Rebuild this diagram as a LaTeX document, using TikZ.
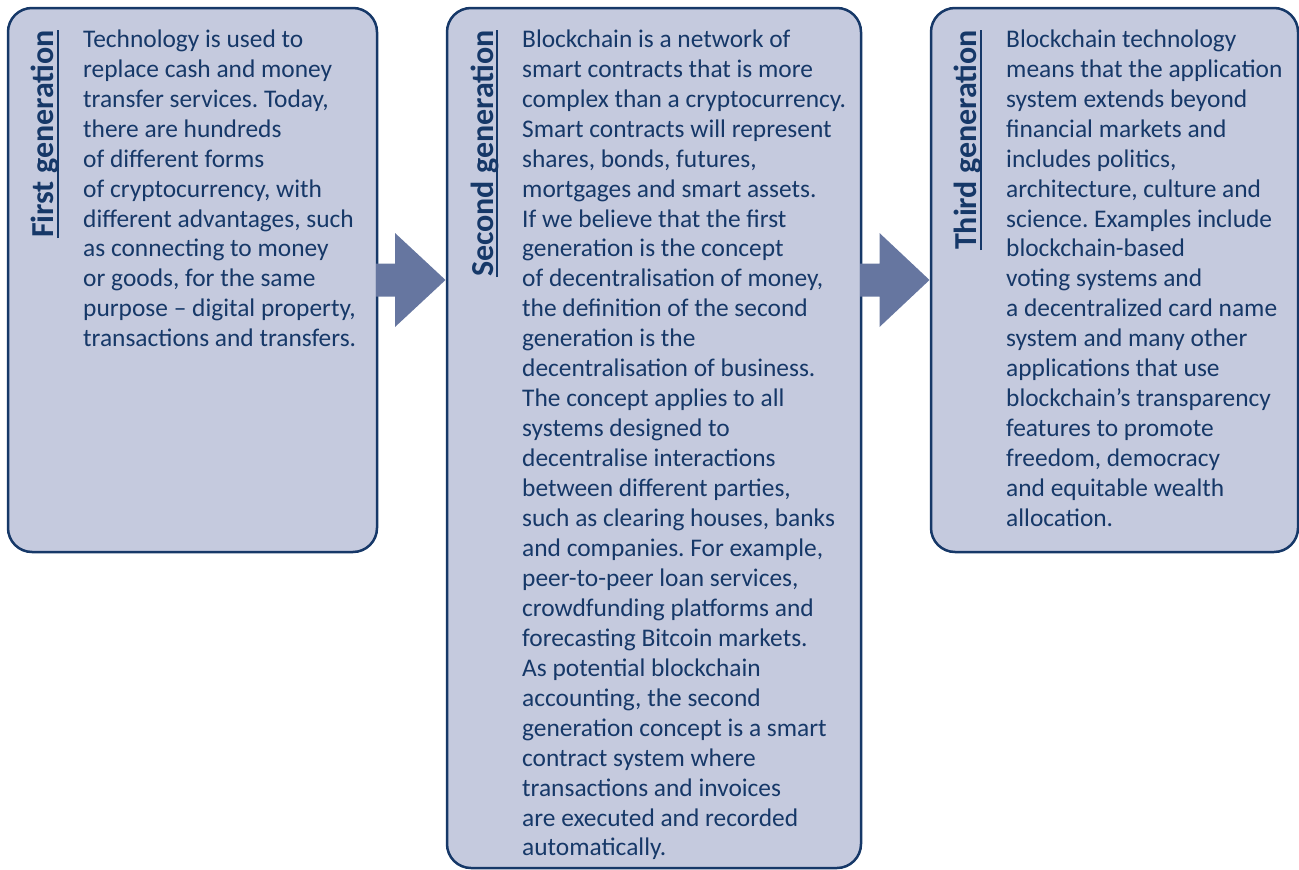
\documentclass[tikz,border=0pt]{standalone}
\usepackage{fontspec}
\setmainfont{Carlito}
\usetikzlibrary{calc}
\definecolor{navy}{RGB}{22,56,104}
\definecolor{boxfill}{RGB}{197,202,222}
\definecolor{arrowc}{RGB}{102,118,160}
\frenchspacing
\begin{document}
\begin{tikzpicture}[x=1pt,y=-1pt,
  genbox/.style={draw=navy, line width=2.5pt, fill=boxfill, rounded corners=24pt, inner sep=0pt, outer sep=0pt, anchor=north west},
  genbody/.style={anchor=north west, align=left, inner sep=0pt, text=navy, font=\frenchspacing\fontsize{25.4}{29.95}\selectfont},
  gentitle/.style={rotate=90, anchor=base east, inner sep=0pt, text=navy, font=\bfseries\fontsize{32}{36}\selectfont},
  ulinestyle/.style={draw=navy, line width=2pt},
  blockarrow/.style={fill=arrowc}]
\useasboundingbox (0,0) rectangle (1299,870);

% boxes
\node[genbox, minimum width=369pt, minimum height=544pt] (b1) at (8,8) {};
\node[genbox, minimum width=414pt, minimum height=860pt] (b2) at (447,8) {};
\node[genbox, minimum width=367pt, minimum height=544pt] (b3) at (931,8) {};

% block arrows
\fill[blockarrow] ($(b1.east)+(-1,-16.5)$) -- ++(19,0) -- ++(0,-30.5)
  -- ($(b2.west |- b1.east)+(-1.5,0)$)
  -- ($(b1.east)+(18,47)$) -- ++(0,-30.5) -- ($(b1.east)+(-1,16.5)$) -- cycle;
\fill[blockarrow] ($(b2.east |- b3.west)+(-1,-16.5)$) -- ++(19.5,0) -- ++(0,-30.5)
  -- ($(b3.west)+(-1.5,0)$)
  -- ($(b2.east |- b3.west)+(18.5,47)$) -- ++(0,-30.5) -- ($(b2.east |- b3.west)+(-1,16.5)$) -- cycle;

% titles
\node[gentitle] (t1) at (53.5,30) {First generation};
\node[gentitle] (t2) at (493,30) {Second generation};
\node[gentitle] (t3) at (976.5,30) {Third generation};
\foreach \t in {t1,t2,t3}{
  \draw[ulinestyle] ([xshift=4pt]\t.base west) -- ([xshift=4pt]\t.base east);
}

% body texts
\node[genbody] (x1) at (83,29.5) {Technology is used to\\
replace cash and money\\
transfer services. Today,\\
there are hundreds\\
of different forms\\
of cryptocurrency, with\\
different advantages, such\\
as connecting to money\\
or goods, for the same\\
purpose – digital property,\\
transactions and transfers.};

\node[genbody] (x2) at (522,29.5) {Blockchain is a network of\\
smart contracts that is more\\
complex than a cryptocurrency.\\
Smart contracts will represent\\
shares, bonds, futures,\\
mortgages and smart assets.\\
If we believe that the first\\
generation is the concept\\
of decentralisation of money,\\
the definition of the second\\
generation is the\\
decentralisation of business.\\
The concept applies to all\\
systems designed to\\
decentralise interactions\\
between different parties,\\
such as clearing houses, banks\\
and companies. For example,\\
peer-to-peer loan services,\\
crowdfunding platforms and\\
forecasting Bitcoin markets.\\
As potential blockchain\\
accounting, the second\\
generation concept is a smart\\
contract system where\\
transactions and invoices\\
are executed and recorded\\
automatically.};

\node[genbody] (x3) at (1006,29.5) {Blockchain technology\\
means that the application\\
system extends beyond\\
financial markets and\\
includes politics,\\
architecture, culture and\\
science. Examples include\\
blockchain-based\\
voting systems and\\
a decentralized card name\\
system and many other\\
applications that use\\
blockchain’s transparency\\
features to promote\\
freedom, democracy\\
and equitable wealth\\
allocation.};
\end{tikzpicture}
\end{document}
